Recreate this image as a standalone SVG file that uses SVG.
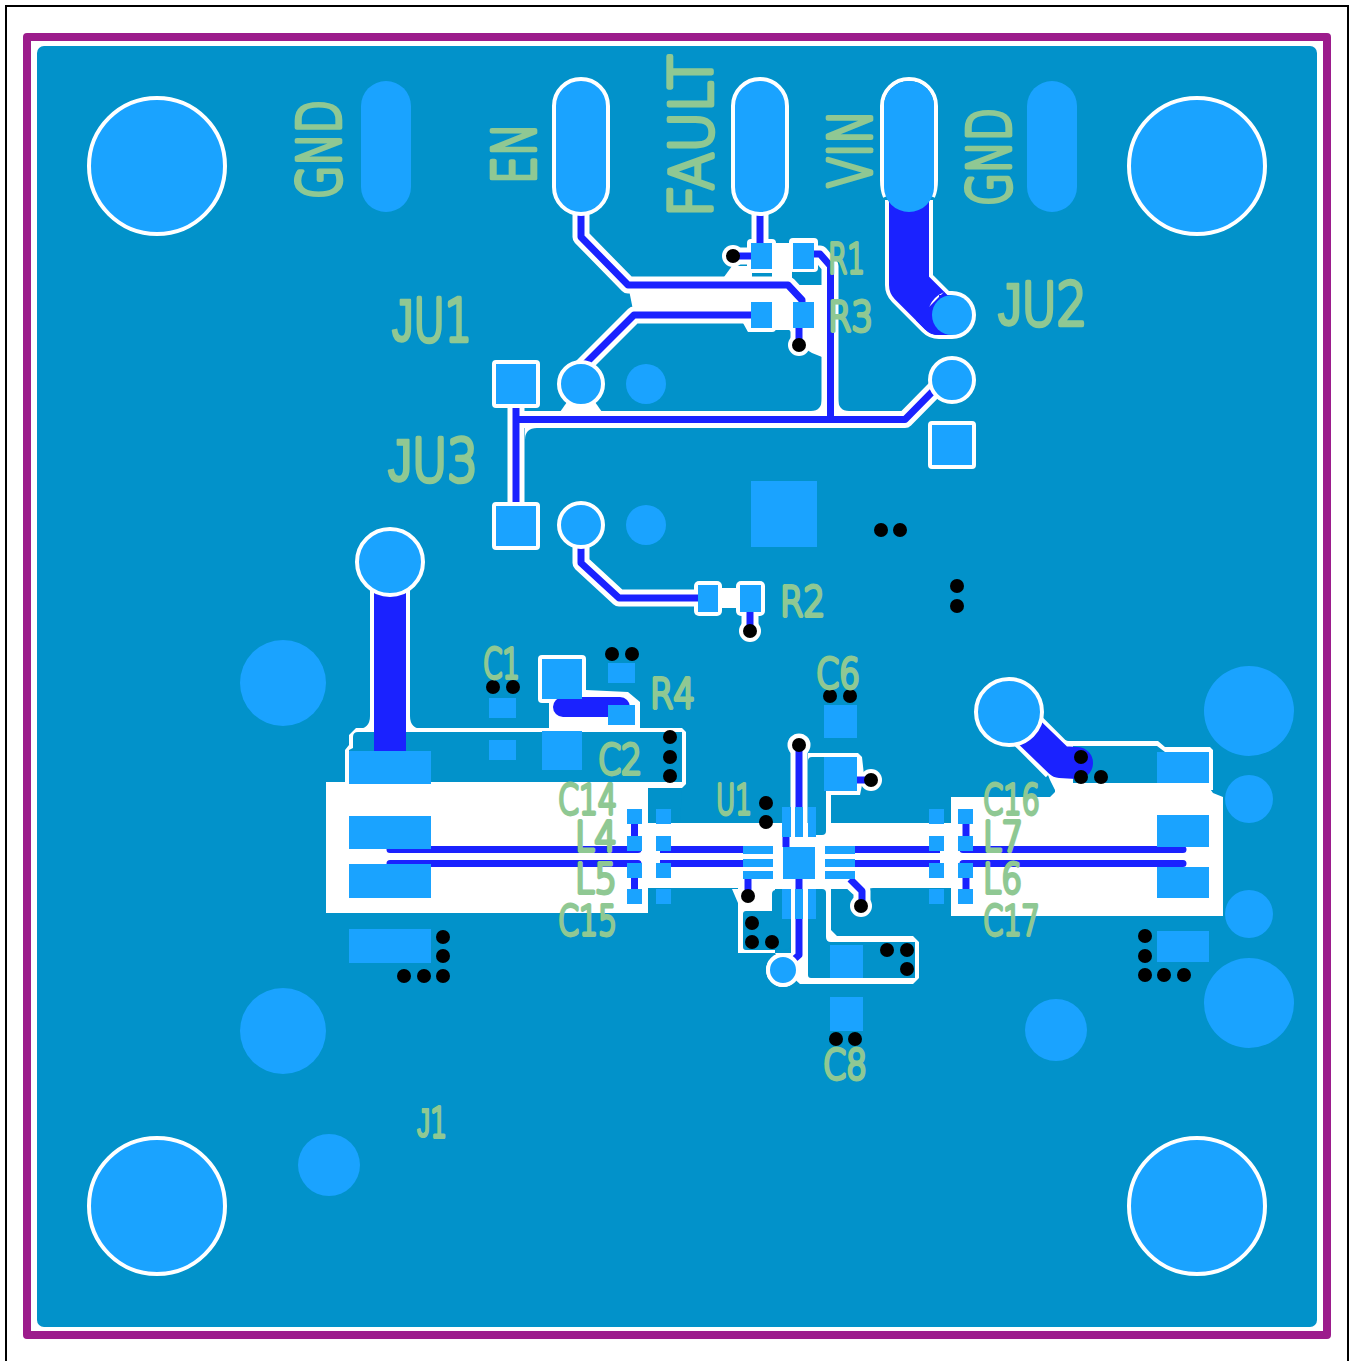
<svg xmlns="http://www.w3.org/2000/svg" width="1351" height="1361" viewBox="0 0 1351 1361">
<style>
.cu{fill:#0292ca}
.pad{fill:#1aa3ff}
.pw{fill:#1aa3ff;stroke:#fff;stroke-width:4}
.wf{fill:#fff}
.ws{fill:none;stroke:#fff;stroke-width:17;stroke-linejoin:round}
.tr{fill:none;stroke:#1a22ff;stroke-width:7;stroke-linejoin:round}
.tk{fill:none;stroke:#1a22ff;stroke-linejoin:round}
.v{fill:#000}
text{font-family:"DejaVu Sans",sans-serif;font-weight:200;fill:#8fc893;stroke:#8fc893;stroke-linejoin:round;stroke-linecap:round}
.s{font-size:40px;stroke-width:3.800px}
.b{font-size:59px;stroke-width:4.600px}
.j{font-family:"Liberation Sans",sans-serif;font-weight:400}
.sj{font-family:"Liberation Sans",sans-serif;font-weight:400;stroke-width:2px}
.bj{font-family:"Liberation Sans",sans-serif;font-weight:400;stroke-width:2.500px}
</style>
<defs>
<circle id="via" r="7" class="v"/>
</defs>
<rect x="0" y="0" width="1351" height="1361" fill="#fff"/>
<path d="M6 1361V6H1348V1361" fill="none" stroke="#000" stroke-width="2"/>
<rect x="27" y="37" width="1300" height="1298" fill="none" stroke="#9c1c8c" stroke-width="8" stroke-linejoin="round"/>
<rect x="37" y="46" width="1280" height="1281" rx="7" class="cu"/>

<g id="clearance">
<path class="ws" d="M581 212V237L628 285H788L802 300V315"/>
<path class="ws" d="M751 315H634L581 368"/>
<path class="wf" d="M628 285H830V357L822 357L812 353L799 345L790 330H775L748 332L743 323V315H634Z"/>
<rect class="wf" x="747" y="239" width="29" height="34" rx="4"/>
<rect class="wf" x="789" y="238" width="29" height="34" rx="4"/>
<rect class="wf" x="772" y="243" width="20" height="45"/>
<path class="wf" d="M724 277L732 266H752V286H724Z"/>
<circle class="wf" cx="733" cy="256" r="11"/>
<path class="ws" d="M733 256H751"/>
<path class="ws" d="M760 212V243"/>
<path class="ws" d="M814 254H820L830 266V419"/>
<rect class="wf" x="747" y="298" width="29" height="34" rx="4"/>
<rect class="wf" x="789" y="298" width="29" height="34" rx="4"/>
<circle class="wf" cx="799" cy="345" r="11"/>
<path class="ws" d="M799 328V345"/>
<path class="ws" d="M516 419.500H905L936 388"/>
<path class="ws" d="M516 384V526"/>
<path class="wf" d="M567 402H595L602 412H560Z"/>
<path class="wf" d="M822 398V411H811Q822 411 822 398ZM838 398V411H849Q838 411 838 398ZM525 428H537Q525 428 525 440Z"/>
<path class="tk" style="stroke:#fff" stroke-width="48" fill="none" d="M909 200V285L939 315H952"/>
<path class="wf" d="M326 799H345V750L349 745V735L356 728H682L686 732V784L682 788H648V823H755L782 846H791V835H826V823H951V797H1050L1055 792V783H1206L1213 793L1223 797V916H951V888H873L865 889H808V889H782V889H732L738 903V888H648V913H326Z"/>
<path class="wf" d="M345 782H326V799H345ZM648 888H951V823H648Z"/>
<rect class="wf" x="370" y="560" width="40" height="172"/>
<path class="wf" d="M410 716V729H423Q410 729 410 716ZM370 716V729H357Q370 729 370 716Z"/>
<rect class="wf" x="538" y="655" width="48" height="48" rx="4"/>
<path class="wf" d="M549 703L586 690L628 692L640 702V728H549Z"/>
<path class="wf" d="M1030 730L1068 741H1158L1165 747H1210L1213 750V790H1055L1050 780Z"/>
<path class="tk" style="stroke:#fff" stroke-width="40" d="M1029 732L1060 763"/>
<path class="wf" d="M738 885H775V953H738Z"/>
<circle class="wf" cx="748" cy="896" r="11"/>
<path class="ws" d="M799 745V890"/>
<circle class="wf" cx="799" cy="745" r="11.500"/>
<path class="wf" d="M808 753H858L862 757L864 775L860 795H831V830H808Z"/>
<circle class="wf" cx="871" cy="780" r="11"/>
<path class="ws" d="M850 880L862 891V906"/>
<circle class="wf" cx="861" cy="906" r="11"/>
<path class="wf" d="M808 885H831V930L837 936H913L919 942V978L913 984H808Z"/>
<path class="wf" d="M791 885H808V984H800L790 975L775 953H791Z"/>
<circle class="wf" cx="783" cy="970" r="17"/>
<path class="ws" d="M581 525V563L619 598H698"/>
<rect class="wf" x="694" y="581" width="28" height="35" rx="5"/>
<rect class="wf" x="736" y="581" width="29" height="35" rx="5"/>
<rect class="wf" x="720" y="588" width="20" height="20"/>
<circle class="wf" cx="750" cy="631" r="11"/>
<path class="ws" d="M750 612V631"/>
</g>

<g id="copper-islands" class="cu">
<path d="M353 737Q353 732 358 732H682V782H349V750L353 748Z"/>
<path d="M1073 746H1157L1165 752H1209V783H1073Z"/>
<path d="M648 788H682V790L680 823H656Q648 823 648 815Z"/>
<path d="M648 896Q648 888 656 888H668V913H648Z"/>
<path d="M812 757H857V791H826V831Q826 835 822 835H808V761Q808 757 812 757Z"/>
<path d="M808 889H822Q826 889 826 893V937Q826 942 831 942H915V978H811Q808 978 808 975Z"/>
<path d="M772 894Q772 890 776 890H791V945Q791 950 783 950H746Q743 950 743 947V914Q743 911 746 911H772Z"/>
</g>

<g id="connectors">
<path class="tr" d="M581 212V237L628 285H788L802 300V315"/>
<path class="tr" d="M751 315H634L581 368"/>
<path class="tr" d="M760 212V243"/>
<path class="tr" d="M733 256H751"/>
<path class="tr" d="M814 254H820L830.500 266V419"/>
<path class="tr" d="M799 328V345"/>
<path class="tr" d="M516 384V526"/>
<path class="tr" d="M516 419.500H905L936 388"/>
<path class="tr" d="M581 525V563L619 598H698"/>
<path class="tr" d="M750 612V631"/>
<path class="tk" stroke-width="40" d="M909 200V285L939 315H952"/>
<path class="tk" stroke-width="32" d="M390 562V755"/>
<path class="tk" stroke-width="32" stroke-linecap="round" d="M1029 732L1060 762L1077 763"/>
<path class="tk" stroke-width="20" stroke-linecap="round" d="M563 707H620"/>
<path class="tr" stroke-linecap="round" d="M390 849.500H638M390 863.500H638"/>
<path class="tr" d="M660 849.500H745M660 863.500H745"/>
<path class="tr" d="M855 849.500H940M855 863.500H940"/>
<path class="tr" stroke-linecap="round" d="M963 849.500H1183M963 863.500H1183"/>
<path class="tr" d="M634.500 824V836M634.500 878V889M966 824V836M966 878V889"/>
<path class="tr" d="M799 745V807"/>
<path class="tr" d="M786 837V847"/>
<path class="tr" d="M799 879V889"/>
<path class="tr" d="M799 918V955L790 963"/>
<path class="tr" d="M748 879V896"/>
<path class="tr" d="M850 879L862 891V906"/>
<path class="tr" d="M857 780H871"/>
</g>

<g id="holes">
<circle class="pw" cx="157" cy="166" r="68"/>
<circle class="pw" cx="1197" cy="166" r="68"/>
<circle class="pw" cx="157" cy="1206" r="68"/>
<circle class="pw" cx="1197" cy="1206" r="68"/>
</g>
<g id="edge-pads" class="pad">
<circle cx="283" cy="683" r="43"/>
<circle cx="283" cy="1031" r="43"/>
<circle cx="329" cy="1165" r="31"/>
<circle cx="1056" cy="1030" r="31"/>
<circle cx="1249" cy="711" r="45"/>
<circle cx="1249" cy="1003" r="45"/>
<circle cx="1249" cy="799" r="24"/>
<circle cx="1249" cy="914" r="24"/>
</g>
<g id="headers">
<rect class="pad" x="361" y="81" width="50" height="131" rx="25"/>
<rect class="pad" x="1027" y="81" width="50" height="131" rx="25"/>
<rect class="pw" x="554" y="79" width="54" height="135" rx="27"/>
<rect class="pw" x="733" y="79" width="54" height="135" rx="27"/>
<path d="M885 197Q882 190 882 180V106A27 27 0 0 1 936 106V180Q936 190 933 197" fill="none" stroke="#fff" stroke-width="4"/>
<rect class="pad" x="884" y="81" width="50" height="131" rx="25"/>
</g>
<g id="jumpers">
<rect class="pw" x="494" y="362" width="44" height="44" rx="2"/>
<rect class="pw" x="494" y="504" width="44" height="44" rx="2"/>
<rect class="pw" x="930" y="423" width="44" height="44" rx="2"/>
<circle class="pw" cx="581" cy="384" r="22"/>
<circle class="pw" cx="581" cy="525" r="22"/>
<circle class="pad" cx="646" cy="384" r="20"/>
<circle class="pad" cx="646" cy="525" r="20"/>
<circle class="pw" cx="952" cy="380" r="22"/>
<circle class="wf" cx="952" cy="315" r="24"/>
<path class="tk" stroke-width="40" d="M930 306L939 315H952"/>
<circle class="pad" cx="952" cy="315" r="20"/>
<rect class="pad" x="751" y="481" width="66" height="66"/>
<circle class="pw" cx="390" cy="562" r="33"/>
<circle class="pw" cx="1009" cy="712" r="33"/>
<circle class="pw" cx="783" cy="970" r="15"/>
</g>
<g id="smd-pads" class="pad">
<rect x="751" y="243" width="21" height="26"/><rect x="793" y="243" width="21" height="26"/>
<rect x="751" y="302" width="21" height="26"/><rect x="793" y="302" width="21" height="26"/>
<rect x="698" y="585" width="20" height="27"/><rect x="740" y="585" width="21" height="27"/>
<rect x="349" y="751" width="82" height="33"/><rect x="349" y="816" width="82" height="33"/>
<rect x="349" y="864" width="82" height="34"/><rect x="349" y="929" width="82" height="34"/>
<rect x="1157" y="752" width="52" height="31"/><rect x="1157" y="815" width="52" height="32"/>
<rect x="1157" y="867" width="52" height="31"/><rect x="1157" y="931" width="52" height="31"/>
<rect x="489" y="698" width="27" height="20"/><rect x="489" y="740" width="27" height="20"/>
<rect x="608" y="663" width="27" height="20"/><rect x="608" y="705" width="27" height="20"/>
<rect x="542" y="659" width="40" height="40"/><rect x="542" y="731" width="40" height="39"/>
<rect x="824" y="705" width="33" height="33"/><rect x="824" y="757" width="33" height="34"/>
<rect x="830" y="945" width="33" height="33"/><rect x="830" y="997" width="33" height="34"/>
<rect x="627" y="809" width="15" height="15"/><rect x="627" y="836" width="15" height="15"/><rect x="627" y="863" width="15" height="15"/><rect x="627" y="889" width="15" height="15"/>
<rect x="656" y="809" width="15" height="15"/><rect x="656" y="836" width="15" height="15"/><rect x="656" y="863" width="15" height="15"/><rect x="656" y="889" width="15" height="15"/>
<rect x="929" y="809" width="15" height="15"/><rect x="929" y="836" width="15" height="15"/><rect x="929" y="863" width="15" height="15"/><rect x="929" y="889" width="15" height="15"/>
<rect x="958" y="809" width="15" height="15"/><rect x="958" y="836" width="15" height="15"/><rect x="958" y="863" width="15" height="15"/><rect x="958" y="889" width="15" height="15"/>
<rect x="783" y="847" width="32" height="32"/>
<rect x="743" y="846" width="30" height="8"/><rect x="743" y="859" width="30" height="8"/><rect x="743" y="871" width="30" height="8"/>
<rect x="825" y="846" width="30" height="8"/><rect x="825" y="859" width="30" height="8"/><rect x="825" y="871" width="30" height="8"/>
<rect x="782" y="807" width="9" height="30"/><rect x="795" y="807" width="8" height="30"/><rect x="808" y="807" width="8" height="30"/>
<rect x="782" y="889" width="9" height="30"/><rect x="795" y="889" width="8" height="30"/><rect x="808" y="889" width="8" height="30"/>
</g>
<g id="vias">
<use href="#via" x="733" y="256"/><use href="#via" x="799" y="345"/>
<use href="#via" x="881" y="530"/><use href="#via" x="900" y="530"/>
<use href="#via" x="957" y="586"/><use href="#via" x="957" y="606"/>
<use href="#via" x="750" y="631"/>
<use href="#via" x="612" y="654"/><use href="#via" x="632" y="654"/>
<use href="#via" x="493" y="687"/><use href="#via" x="513" y="687"/>
<use href="#via" x="670" y="737"/><use href="#via" x="670" y="757"/><use href="#via" x="670" y="776"/>
<use href="#via" x="443" y="937"/><use href="#via" x="443" y="956"/><use href="#via" x="443" y="976"/><use href="#via" x="424" y="976"/><use href="#via" x="404" y="976"/>
<use href="#via" x="830" y="696"/><use href="#via" x="850" y="696"/>
<use href="#via" x="799" y="745"/><use href="#via" x="871" y="780"/>
<use href="#via" x="766" y="803"/><use href="#via" x="766" y="822"/>
<use href="#via" x="748" y="896"/><use href="#via" x="861" y="906"/>
<use href="#via" x="752" y="923"/><use href="#via" x="752" y="942"/><use href="#via" x="772" y="942"/>
<use href="#via" x="887" y="950"/><use href="#via" x="907" y="950"/><use href="#via" x="907" y="969"/>
<use href="#via" x="836" y="1039"/><use href="#via" x="855" y="1039"/>
<use href="#via" x="1081" y="757"/><use href="#via" x="1081" y="777"/><use href="#via" x="1101" y="777"/>
<use href="#via" x="1145" y="936"/><use href="#via" x="1145" y="956"/><use href="#via" x="1145" y="975"/><use href="#via" x="1164" y="975"/><use href="#via" x="1184" y="975"/>
</g>
<g id="labels">
<text class="b" transform="translate(340,199) rotate(-90)" textLength="99" lengthAdjust="spacingAndGlyphs">GND</text>
<text class="b" transform="translate(535,184) rotate(-90)" textLength="61" lengthAdjust="spacingAndGlyphs">EN</text>
<text class="b" transform="translate(712,217) rotate(-90)" textLength="162" lengthAdjust="spacingAndGlyphs">FAULT</text>
<text class="b" transform="translate(871,188) rotate(-90)" textLength="78" lengthAdjust="spacingAndGlyphs">VIN</text>
<text class="b" transform="translate(1010,206) rotate(-90)" textLength="98" lengthAdjust="spacingAndGlyphs">GND</text>
<text class="b" x="392" y="341" textLength="80" lengthAdjust="spacingAndGlyphs"><tspan class="bj">J</tspan>U1</text>
<text class="b" x="998" y="325" textLength="89" lengthAdjust="spacingAndGlyphs"><tspan class="bj">J</tspan>U2</text>
<text class="b" x="388" y="481" textLength="90" lengthAdjust="spacingAndGlyphs"><tspan class="bj">J</tspan>U3</text>
<text class="s" x="828" y="273" textLength="37" lengthAdjust="spacingAndGlyphs">R1</text>
<text class="s" x="828" y="331" textLength="45" lengthAdjust="spacingAndGlyphs">R3</text>
<text class="s" x="780" y="616" textLength="45" lengthAdjust="spacingAndGlyphs">R2</text>
<text class="s" x="483" y="678" textLength="37" lengthAdjust="spacingAndGlyphs">C1</text>
<text class="s" x="650" y="708" textLength="45" lengthAdjust="spacingAndGlyphs">R4</text>
<text class="s" x="598" y="774" textLength="44" lengthAdjust="spacingAndGlyphs">C2</text>
<text class="s" x="816" y="688" textLength="44" lengthAdjust="spacingAndGlyphs">C6</text>
<text class="s" x="558" y="814" textLength="59" lengthAdjust="spacingAndGlyphs">C14</text>
<text class="s" x="575" y="851" textLength="42" lengthAdjust="spacingAndGlyphs">L4</text>
<text class="s" x="575" y="893" textLength="42" lengthAdjust="spacingAndGlyphs">L5</text>
<text class="s" x="558" y="935" textLength="59" lengthAdjust="spacingAndGlyphs">C15</text>
<text class="s" x="716" y="814" textLength="36" lengthAdjust="spacingAndGlyphs">U1</text>
<text class="s" x="983" y="814" textLength="57" lengthAdjust="spacingAndGlyphs">C16</text>
<text class="s" x="983" y="851" textLength="40" lengthAdjust="spacingAndGlyphs">L7</text>
<text class="s" x="983" y="893" textLength="39" lengthAdjust="spacingAndGlyphs">L6</text>
<text class="s" x="983" y="935" textLength="57" lengthAdjust="spacingAndGlyphs">C17</text>
<text class="s" x="823" y="1079" textLength="44" lengthAdjust="spacingAndGlyphs">C8</text>
<text class="s" x="417" y="1137" textLength="30" lengthAdjust="spacingAndGlyphs"><tspan class="sj">J</tspan>1</text>
</g>
</svg>
